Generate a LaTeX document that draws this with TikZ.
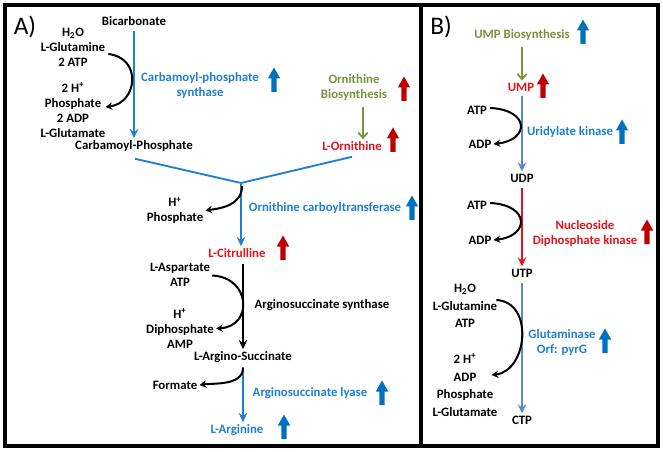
\documentclass[tikz,border=0pt]{standalone}
\usepackage{fontspec}
\setmainfont{Carlito}
\usetikzlibrary{arrows.meta,calc}
\definecolor{myblue}{HTML}{0070C0}
\definecolor{tblue}{HTML}{1F80D2}
\definecolor{lblue}{HTML}{1F7FD6}
\definecolor{sblue}{HTML}{5A88CC}
\definecolor{mygreen}{HTML}{77933C}
\definecolor{dred}{HTML}{C00000}
\definecolor{tred}{HTML}{E0141E}
\tikzset{
  uparrow/.pic={\fill[pic actions] (-2.6,12) -- (-2.6,-1.5) -- (-6.2,-1.5) -- (0,-12.5) -- (6.2,-1.5) -- (2.6,-1.5) -- (2.6,12) -- cycle;},
  lbl/.style={font=\bfseries\fontsize{9.6}{11.25}\selectfont, inner sep=1.5pt, align=center},
  lblB/.style={font=\bfseries\fontsize{9.6}{13.2}\selectfont, inner sep=1.5pt, align=center},
  panel/.style={font=\fontsize{19}{20}\selectfont, inner sep=0pt},
  mainarr/.style={line width=1.4pt, -{Stealth[length=7pt,width=6.5pt,inset=2.5pt]}},
  curv/.style={line width=1.5pt, black, -{Stealth[length=5pt,width=5.5pt]}},
}
\begin{document}
\begin{tikzpicture}[x=0.75pt,y=-0.75pt]
\useasboundingbox (0,0) rectangle (663,452);
% frame
\draw[line width=2.3pt] (5,5) rectangle (658,446);
\draw[line width=2.3pt] (421,5) -- (421,446);

% ---------- Panel A ----------
\node[panel] (pA) at (25,27) {A)};
\node[lbl] (bic) at (134,21) {Bicarbonate};
\node[lbl] (g1) at (73,47) {H\textsubscript{2}O\\L-Glutamine\\2 ATP};
\node[lbl] (g2) at (73,110) {2 H\textsuperscript{+}\\Phosphate\\2 ADP\\L-Glutamate};
\node[lbl, text=tblue] (cps) at (200,86) {Carbamoyl-phosphate\\synthase};
\pic[fill=myblue] at (274,80) {uparrow};
\node[lbl] (cp) at (134,146) {Carbamoyl-Phosphate};
\draw[mainarr, lblue] (bic.south) ++(0,3) -- (cp.north);
\draw[curv] (g1.east) ++(1,7) .. controls +(34,4) and +(32,-4) .. ($(g2.east)+(-2,-3)$);

\node[lbl, text=mygreen] (ob) at (354,88) {Ornithine\\Biosynthesis};
\pic[fill=dred] at (404,89) {uparrow};
\node[lbl, text=tred] (orn) at (352,146) {L-Ornithine};
\pic[fill=dred] at (393,140) {uparrow};
\draw[line width=1.3pt, mygreen, -{Straight Barb[length=4pt,width=7pt]}] ([xshift=6.75pt]ob.south) ++(0,4) -- ([xshift=6.75pt]ob.south |- orn.north);

\coordinate (j) at (241,183);
\draw[line width=1.4pt, lblue] (cp.south) ++(1,5) -- (j);
\draw[line width=1.4pt, lblue] (orn.south) ++(0,4) -- (j);

\node[lbl, text=tblue] (oct) at (325,208) {Ornithine carboyltransferase};
\pic[fill=myblue] at (412,208) {uparrow};
\node[lbl] (hp) at (175,210.5) {H\textsuperscript{+}\\Phosphate};
\node[lbl, text=tred] (cit) at (237,253) {L-Citrulline};
\pic[fill=dred] at (283,248) {uparrow};
\draw[mainarr, lblue] (j) -- (j |- cit.north);
\draw[curv] (j) ++(1,3) .. controls +(0,20) and +(14,-2) .. (hp.east);

\node[lbl] (asp) at (180,274.5) {L-Aspartate\\ATP};
\node[lbl] (dip) at (180,328.5) {H\textsuperscript{+}\\Diphosphate\\AMP};
\node[lbl] (ass) at (322,305) {Arginosuccinate synthase};
\node[lbl] (ags) at (243,357) {L-Argino-Succinate};
\draw[mainarr, black] (cit.south -| ags.south) ++(0,4) -- (ags.north);
\draw[curv] (asp.east) ++(0,1) .. controls +(39,2) and +(37,-2) .. (dip.east);

\node[lbl] (form) at (175,385) {Formate};
\node[lbl, text=tblue] (asl) at (310,393) {Arginosuccinate lyase};
\pic[fill=myblue] at (382,393) {uparrow};
\node[lbl, text=tblue] (arg) at (237,430) {L-Arginine};
\pic[fill=myblue] at (284,427) {uparrow};
\draw[mainarr, lblue] (ags.south) ++(0,2) -- (ags.south |- arg.north);
\draw[curv] (ags.south) ++(0,3) .. controls +(0,18) and +(14,-2) .. (form.east);

% ---------- Panel B ----------
\node[panel] (pB) at (441,27) {B)};
\node[lbl, text=mygreen] (ub) at (522,35) {UMP Biosynthesis};
\pic[fill=myblue] at (583,32) {uparrow};
\node[lbl, text=tred] (ump) at (521,87) {UMP};
\pic[fill=dred] at (543,86) {uparrow};
\draw[line width=1.3pt, mygreen, -{Straight Barb[length=4pt,width=7pt]}] (ub.south) ++(0,4) -- (ub.south |- ump.north);

\node[lbl] (atp1) at (477,110) {ATP};
\node[lbl] (adp1) at (480,144) {ADP};
\node[lbl, text=tblue] (uk) at (570,132) {Uridylate kinase};
\pic[fill=myblue] at (622,132) {uparrow};
\node[lbl] (udp) at (522,178) {UDP};
\draw[mainarr, sblue] (ump.south) ++(1,3) -- (udp.north);
\draw[curv] (atp1.east) ++(1,-2) .. controls +(40,2) and +(36,-4) .. (adp1.east);

\node[lbl] (atp2) at (477,205) {ATP};
\node[lbl] (adp2) at (480,240) {ADP};
\node[lbl, text=tred] (ndk) at (585,233.5) {Nucleoside\\Diphosphate kinase};
\pic[fill=dred] at (647,232) {uparrow};
\node[lbl] (utp) at (522,273) {UTP};
\draw[mainarr, tred] (udp.south) ++(0,4) -- (utp.north);
\draw[curv] (atp2.east) ++(1,-2) .. controls +(40,2) and +(36,-4) .. (adp2.east);

\node[lblB] (g3) at (465,306) {H\textsubscript{2}O\\L-Glutamine\\ATP};
\node[lblB] (g4) at (465,385) {2 H\textsuperscript{+}\\ADP\\Phosphate\\L-Glutamate};
\node[lbl, text=tblue] (glu) at (562,342.5) {Glutaminase\\Orf: pyrG};
\pic[fill=myblue] at (605,341) {uparrow};
\node[lbl] (ctp) at (522,420) {CTP};
\draw[mainarr, sblue] (utp.south) ++(0,4) -- (ctp.north);
\draw[curv] (g3.east) ++(-3,-6) .. controls +(38,2) and +(36,-4) .. ($(g4.east)+(-8,-10)$);
\end{tikzpicture}
\end{document}
